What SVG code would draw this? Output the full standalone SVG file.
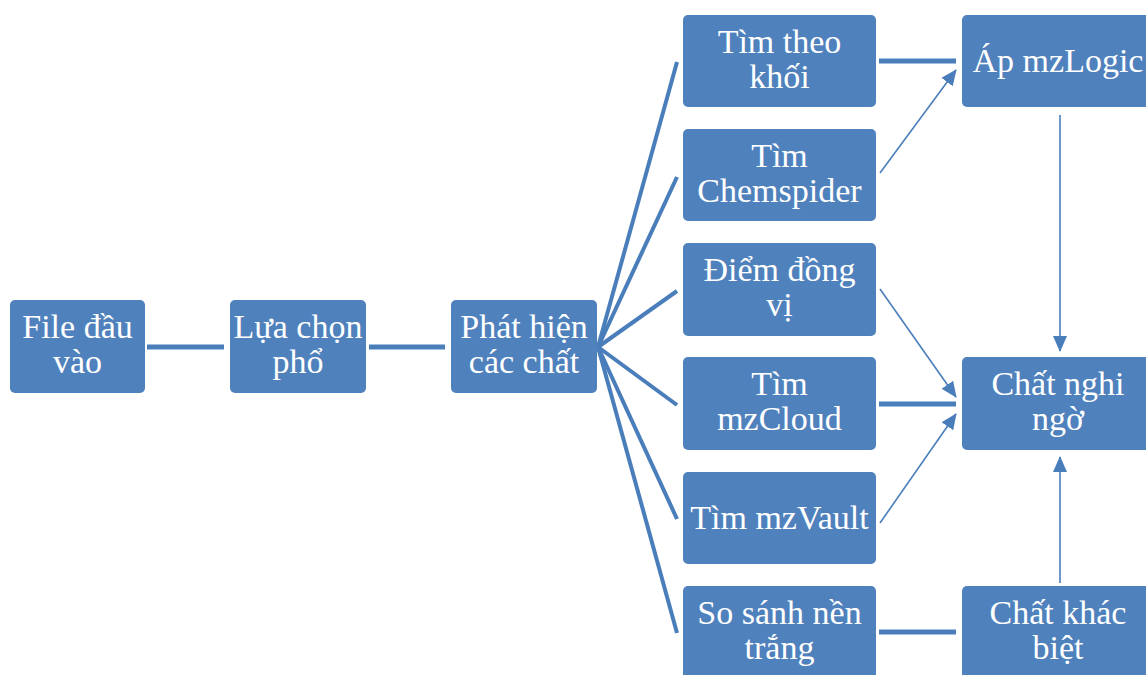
<svg xmlns="http://www.w3.org/2000/svg" width="1146" height="675" viewBox="0 0 1146 675">
<style>
.box{fill:#4F81BD;}
.t{font-family:"Liberation Serif","Times New Roman",serif;font-size:34px;fill:#FFFFFF;text-anchor:middle;}
.thick{stroke:#4A7EBB;stroke-width:5;fill:none;}
.fan{stroke:#4A7EBB;stroke-width:4;fill:none;}
.thin{stroke:#4A7EBB;stroke-width:1.6;fill:none;marker-end:url(#ah);}
</style>
<defs>
<marker id="ah" markerUnits="userSpaceOnUse" markerWidth="16" markerHeight="14" refX="15" refY="7" orient="auto">
<path d="M0,0 L16,7 L0,14 Z" fill="#4A7EBB"/>
</marker>
</defs>
<rect width="1146" height="675" fill="#FFFFFF"/>
<g id="connectors">
<line class="thick" x1="147" y1="347" x2="224" y2="347"/>
<line class="thick" x1="369" y1="347" x2="445" y2="347"/>
<line class="fan" x1="598" y1="347" x2="677" y2="62"/>
<line class="fan" x1="598" y1="347" x2="677" y2="177"/>
<line class="fan" x1="598" y1="347" x2="677" y2="291"/>
<line class="fan" x1="598" y1="347" x2="677" y2="405"/>
<line class="fan" x1="598" y1="347" x2="677" y2="519"/>
<line class="fan" x1="598" y1="347" x2="677" y2="633"/>
<line class="thick" x1="879" y1="61" x2="956" y2="61"/>
<line class="thin" x1="880" y1="173" x2="956" y2="70"/>
<line class="thin" x1="1060" y1="115" x2="1060" y2="351"/>
<line class="thin" x1="880" y1="289" x2="956" y2="397"/>
<line class="thick" x1="879" y1="404" x2="956" y2="404"/>
<line class="thin" x1="880" y1="523" x2="956" y2="414"/>
<line class="thin" x1="1060" y1="583" x2="1060" y2="457"/>
<line class="thick" x1="879" y1="632" x2="956" y2="632"/>
</g>
<g id="n1"><rect class="box" x="10" y="300" width="135" height="93" rx="5"/><text class="t" x="77.5" y="338">File đầu</text><text class="t" x="77.5" y="373">vào</text></g>
<g id="n2"><rect class="box" x="230" y="300" width="136" height="93" rx="5"/><text class="t" x="298" y="338">Lựa chọn</text><text class="t" x="298" y="373">phổ</text></g>
<g id="n3"><rect class="box" x="451" y="300" width="146" height="93" rx="5"/><text class="t" x="524" y="338">Phát hiện</text><text class="t" x="524" y="373">các chất</text></g>
<g id="n4"><rect class="box" x="683" y="15" width="193" height="92" rx="5"/><text class="t" x="779.5" y="53">Tìm theo</text><text class="t" x="779.5" y="88">khối</text></g>
<g id="n5"><rect class="box" x="683" y="129" width="193" height="92" rx="5"/><text class="t" x="779.5" y="167">Tìm</text><text class="t" x="779.5" y="202">Chemspider</text></g>
<g id="n6"><rect class="box" x="683" y="243" width="193" height="93" rx="5"/><text class="t" x="779.5" y="281">Điểm đồng</text><text class="t" x="779.5" y="316">vị</text></g>
<g id="n7"><rect class="box" x="683" y="357" width="193" height="93" rx="5"/><text class="t" x="779.5" y="395">Tìm</text><text class="t" x="779.5" y="430">mzCloud</text></g>
<g id="n8"><rect class="box" x="683" y="472" width="193" height="92" rx="5"/><text class="t" x="779.5" y="529">Tìm mzVault</text></g>
<g id="n9"><rect class="box" x="683" y="586" width="193" height="100" rx="5"/><text class="t" x="779.5" y="624">So sánh nền</text><text class="t" x="779.5" y="659">trắng</text></g>
<g id="n10"><rect class="box" x="962" y="15" width="194" height="92" rx="5"/><text class="t" x="1058" y="72">Áp mzLogic</text></g>
<g id="n11"><rect class="box" x="962" y="357" width="194" height="93" rx="5"/><text class="t" x="1058" y="395">Chất nghi</text><text class="t" x="1058" y="430">ngờ</text></g>
<g id="n12"><rect class="box" x="962" y="586" width="194" height="100" rx="5"/><text class="t" x="1058" y="624">Chất khác</text><text class="t" x="1058" y="659">biệt</text></g>
</svg>
